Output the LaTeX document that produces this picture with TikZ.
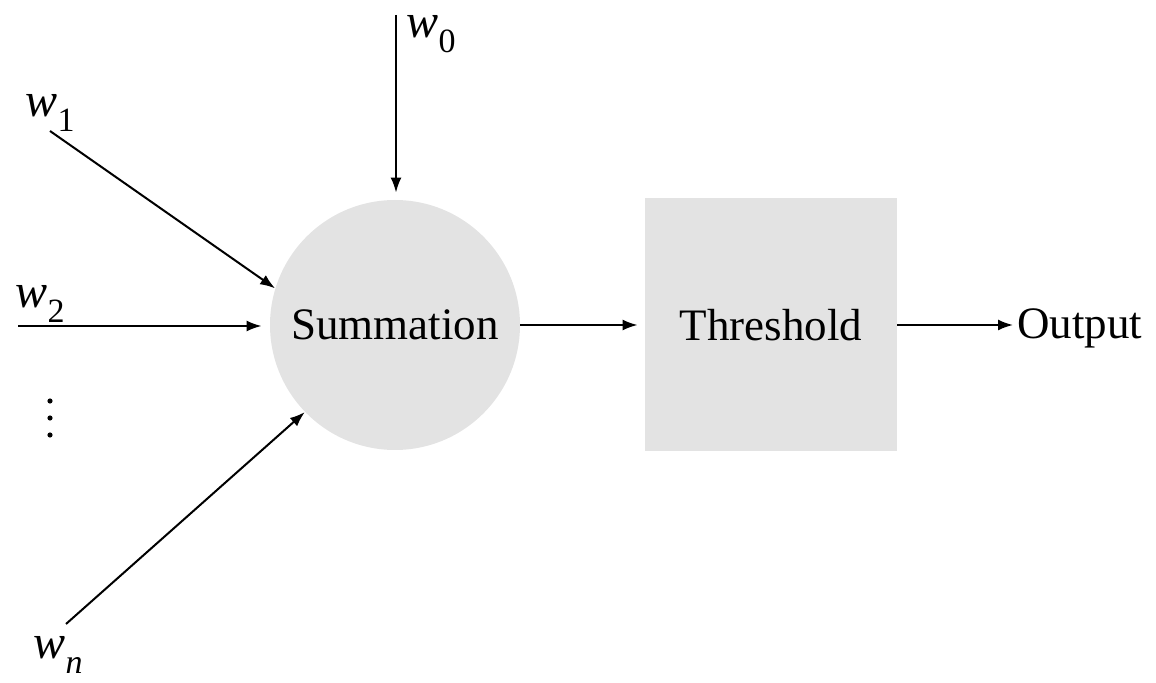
\documentclass[tikz,border=0pt]{standalone}
\usepackage{fontspec}
\setmainfont{Liberation Serif}
\usetikzlibrary{arrows.meta}
\newcommand{\wlab}[1]{\textit{w}\raisebox{-0.3em}{\fontsize{17}{17}\selectfont #1}}
\tikzset{
  wire/.style={line width=1pt, -{Latex[length=7.5pt,width=5.5pt]}},
  blob/.style={fill=black!11, draw=none},
  lab/.style={inner sep=0pt, font=\fontsize{22.5}{26}\selectfont},
  wl/.style={inner sep=0pt, font=\fontsize{24}{26}\selectfont},
}
\begin{document}
\begin{tikzpicture}[x=0.5pt,y=-0.5pt]
  \useasboundingbox (0,0) rectangle (1156,683);

  % processing units
  \node[blob, circle, minimum size=125pt, lab] (sum) at (395,325) {Summation};
  \node[blob, rectangle, minimum width=126pt, minimum height=126.5pt, lab] (thr) at (771,325) {Threshold};
  \node[lab, anchor=west] (out) at (1017,328) {Output};

  % weight labels
  \node[wl] (w0) at (431,34) {\wlab{0}};
  \node[wl] (w1) at (50,113) {\wlab{1}};
  \node[wl] (w2) at (40,304) {\wlab{2}};
  \node[wl] (wn) at (58,655) {\wlab{\textit{n}}};

  % free ends of the input lines
  \coordinate (s0) at (396,15);
  \coordinate (s1) at (50,131);
  \coordinate (s2) at (18,326);
  \coordinate (sn) at (66,624);

  % elided inputs
  \foreach \yy in {401,418,435} \fill (50,\yy) circle (1.3pt);

  % connectors
  \draw[wire, shorten >=3.5pt] (s0) -- (s0 |- sum.north);
  \draw[wire] (s1) -- (sum.163.5);
  \draw[wire, shorten >=4pt] (s2) -- (s2 -| sum.west);
  \draw[wire] (sn) -- (sum.224.5);
  \draw[wire, shorten >=3.5pt] (sum.east) -- (thr.west);
  \draw[wire, shorten >=2pt] (thr.east) -- (thr.east -| out.west);
\end{tikzpicture}
\end{document}
